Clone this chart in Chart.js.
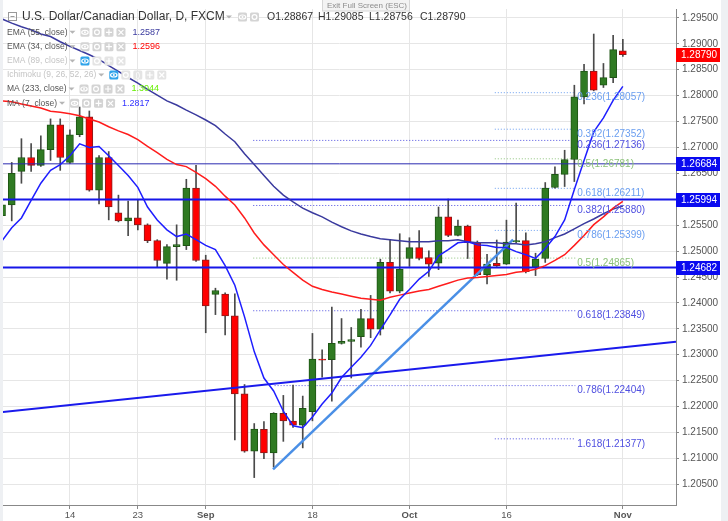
<!DOCTYPE html>
<html><head><meta charset="utf-8">
<style>
html,body{margin:0;padding:0;background:#eef0f3;overflow:hidden;}
canvas{display:block;}
</style>
<script src="https://cdn.jsdelivr.net/npm/chart.js@4.4.0/dist/chart.umd.min.js"></script>
</head><body>
<canvas id="c" width="728" height="521"></canvas>
<script>
// ---------------- DATA ----------------
const dates = [
 "2017-08-03","2017-08-04","2017-08-07","2017-08-08","2017-08-09","2017-08-10","2017-08-11","2017-08-14","2017-08-15","2017-08-16",
 "2017-08-17","2017-08-18","2017-08-21","2017-08-22","2017-08-23","2017-08-24","2017-08-25","2017-08-28","2017-08-29","2017-08-30",
 "2017-08-31","2017-09-01","2017-09-04","2017-09-05","2017-09-06","2017-09-07","2017-09-08","2017-09-11","2017-09-12","2017-09-13",
 "2017-09-14","2017-09-15","2017-09-18","2017-09-19","2017-09-20","2017-09-21","2017-09-22","2017-09-25","2017-09-26","2017-09-27",
 "2017-09-28","2017-09-29","2017-10-02","2017-10-03","2017-10-04","2017-10-05","2017-10-06","2017-10-09","2017-10-10","2017-10-11",
 "2017-10-12","2017-10-13","2017-10-16","2017-10-17","2017-10-18","2017-10-19","2017-10-20","2017-10-23","2017-10-24","2017-10-25",
 "2017-10-26","2017-10-27","2017-10-30","2017-10-31","2017-11-01"];
const open = [
 1.25685,1.25889,1.26539,1.26806,1.26653,1.26959,1.27437,1.26711,1.27246,1.27589,
 1.26176,1.26806,1.25736,1.25583,1.25641,1.25507,1.25201,1.24762,1.25087,1.25106,
 1.26214,1.24832,1.24164,1.24170,1.23749,1.22245,1.21137,1.21558,1.21107,1.21871,
 1.21718,1.21642,1.21902,1.22914,1.22903,1.23220,1.23258,1.23348,1.23698,1.23495,
 1.24781,1.24227,1.24857,1.25067,1.24876,1.24767,1.25660,1.25302,1.25482,1.25163,
 1.24546,1.24762,1.24748,1.25176,1.25201,1.24685,1.24857,1.26227,1.26481,1.26768,
 1.27977,1.28474,1.28201,1.28348,1.28867];
const high = [
 1.26023,1.26711,1.27169,1.27074,1.27226,1.27551,1.27551,1.27341,1.27780,1.27704,
 1.26844,1.26921,1.26080,1.25965,1.25985,1.25526,1.25220,1.25125,1.25507,1.26386,
 1.26653,1.24920,1.24284,1.24194,1.24175,1.22425,1.21672,1.21711,1.21882,1.22215,
 1.22412,1.22202,1.23411,1.23094,1.23921,1.23698,1.23526,1.23877,1.24145,1.24844,
 1.25226,1.25335,1.25258,1.25398,1.25004,1.25851,1.26004,1.25597,1.25501,1.25195,
 1.24939,1.25214,1.25597,1.25927,1.25354,1.24959,1.26323,1.26628,1.26946,1.28201,
 1.28602,1.29189,1.28621,1.29162,1.29085];
const low = [
 1.25622,1.25583,1.26309,1.26539,1.26634,1.26749,1.26558,1.26691,1.27207,1.26156,
 1.25908,1.25602,1.25564,1.25297,1.25411,1.25163,1.24685,1.24456,1.24437,1.25029,
 1.24800,1.23424,1.23774,1.23380,1.21355,1.21118,1.20629,1.20992,1.20832,1.21328,
 1.21596,1.21202,1.21724,1.22565,1.22106,1.23205,1.22551,1.23144,1.23329,1.23380,
 1.24194,1.24194,1.24704,1.24832,1.24513,1.24641,1.25278,1.25291,1.24857,1.24527,
 1.24366,1.24704,1.24742,1.25163,1.24580,1.24527,1.24781,1.26214,1.26246,1.26342,
 1.27838,1.28092,1.28157,1.28252,1.28756];
const close = [
 1.25895,1.26500,1.26806,1.26653,1.26959,1.27437,1.26806,1.27246,1.27589,1.26176,
 1.26806,1.25851,1.25583,1.25641,1.25507,1.25201,1.24819,1.25087,1.25125,1.26214,
 1.24819,1.23940,1.24240,1.23749,1.22245,1.21137,1.21565,1.21107,1.21871,1.21724,
 1.21642,1.21967,1.22914,1.22895,1.23220,1.23258,1.23291,1.23698,1.23495,1.24781,
 1.24227,1.24653,1.25067,1.24857,1.24748,1.25660,1.25302,1.25482,1.25163,1.24546,
 1.24748,1.24718,1.25176,1.25201,1.24603,1.24844,1.26214,1.26481,1.26768,1.27977,
 1.28474,1.28105,1.28348,1.28889,1.28790];
const ema55 = [
 1.2948,1.2940,1.2933,1.2927,1.2919,1.2914,1.2904,1.2895,1.2887,1.2879,
 1.2870,1.2858,1.2847,1.2835,1.2824,1.2812,1.2801,1.2790,1.2782,1.2772,
 1.2763,1.2753,1.2742,1.2726,1.2711,1.2688,1.2667,1.2646,1.2625,1.2608,
 1.2595,1.2583,1.2574,1.2566,1.2556,1.2547,1.2539,1.2533,1.2528,1.2524,
 1.2522,1.2520,1.2518,1.2518,1.2518,1.2520,1.2520,1.2522,1.2518,1.2516,
 1.2516,1.2516,1.2514,1.2514,1.2512,1.2514,1.2518,1.2526,1.2533,1.2543,
 1.2553,1.2562,1.2572,1.2581,1.2587];
const ema34 = [
 1.2790,1.2788,1.2784,1.2780,1.2776,1.2770,1.2768,1.2765,1.2761,1.2755,
 1.2749,1.2740,1.2732,1.2725,1.2715,1.2702,1.2690,1.2677,1.2667,1.2663,
 1.2652,1.2640,1.2625,1.2606,1.2589,1.2564,1.2535,1.2512,1.2493,1.2474,
 1.2459,1.2444,1.2432,1.2426,1.2421,1.2417,1.2413,1.2409,1.2407,1.2405,
 1.2411,1.2415,1.2419,1.2423,1.2426,1.2432,1.2438,1.2444,1.2448,1.2449,
 1.2451,1.2453,1.2455,1.2459,1.2461,1.2465,1.2472,1.2482,1.2493,1.2511,
 1.2530,1.2551,1.2566,1.2583,1.2596];
const ma7 = [
 1.2520,1.2545,1.2564,1.2598,1.2631,1.2656,1.2667,1.2684,1.2707,1.2700,
 1.2702,1.2684,1.2665,1.2646,1.2623,1.2585,1.2560,1.2541,1.2528,1.2533,
 1.2522,1.2511,1.2503,1.2472,1.2434,1.2373,1.2306,1.2255,1.2230,1.2191,
 1.2163,1.2159,1.2180,1.2205,1.2226,1.2256,1.2276,1.2295,1.2318,1.2348,
 1.2377,1.2407,1.2426,1.2446,1.2461,1.2491,1.2503,1.2516,1.2518,1.2512,
 1.2511,1.2507,1.2507,1.2499,1.2493,1.2486,1.2505,1.2528,1.2560,1.2619,
 1.2675,1.2730,1.2757,1.2791,1.2818];

const xTickDates  = ["2017-08-14","2017-08-23","2017-09-01","2017-09-18","2017-10-02","2017-10-16","2017-11-01"];
const xTickLabels = ["14","23","Sep","18","Oct","16","Nov"];
const monthLabels = ["Sep","Oct","Nov"];
const yTicks = [1.205,1.210,1.215,1.220,1.225,1.230,1.235,1.240,1.245,1.250,1.255,1.260,1.265,1.270,1.275,1.280,1.285,1.290,1.295];

const hLevels = [1.26684, 1.25994, 1.24682];
// trend lines: [x index, price] pairs
const longTrend  = [[0, 1.21892], [69.48, 1.23252]];
const lightTrend = [[27.94, 1.20788], [52.68, 1.25220]];

const fibALevels = [1.28057, 1.27352, 1.26781, 1.26211, 1.25399, 1.21377];
const fibALabels = ["0.236(1.28057)","0.382(1.27352)","0.5(1.26781)","0.618(1.26211)","0.786(1.25399)","1.618(1.21377)"];
const fibBLevels = [1.27136, 1.25880, 1.24865, 1.23849, 1.22404];
const fibBLabels = ["0.236(1.27136)","0.382(1.25880)","0.5(1.24865)","0.618(1.23849)","0.786(1.22404)"];

const legendNames  = ["EMA (55, close)","EMA (34, close)","EMA (89, close)","Ichimoku (9, 26, 52, 26)","MA (233, close)","MA (7, close)"];
const legendValues = ["1.2587","1.2596","","","1.3044","1.2817"];
const titleText = "U.S. Dollar/Canadian Dollar, D, FXCM";
const ohlcText = ["O1.28867","H1.29085","L1.28756","C1.28790"];

// ---------------- STYLE ----------------
const FONT = '"Liberation Sans", Arial, sans-serif';
const UP = '#2f7a22', UP_B = '#1e5514', DN = '#ff0000', DN_B = '#8a1c1c';
const NAVY = '#3a3a9e', RED = '#ff1c1c', BLUE = '#1e1eff';
const LBLUE = '#6a9ef0', GREEN = '#8cc27a', PBLUE = '#4f4fe0';
const fibAColors = [LBLUE, LBLUE, GREEN, LBLUE, LBLUE, PBLUE];
const fibBColors = [PBLUE, PBLUE, GREEN, PBLUE, PBLUE];
const fibAStart = 50.8, fibBStarts = [25.9, 25.9, 25.9, 25.9, 28.1], fibEnd = 59.1, fibTextX = 59.3;
const hLevelStyles = [{c:'#2a2ab0', w:1}, {c:'#1616e8', w:2}, {c:'#1616e8', w:2}];
const legendColors = [NAVY, '#ff0000', '', '', '#66ee00', '#3333ff'];

const idx = dates.map((d,i)=>i);
const seg = (pts) => pts.map(p=>({x:p[0], y:p[1]}));

const datasets = [];
// fib dotted lines
fibALevels.forEach((v,k)=>datasets.push({type:'line', data:[{x:fibAStart,y:v},{x:fibEnd,y:v}], borderColor:fibAColors[k], borderWidth:1, borderDash:[1,2], pointRadius:0, order:20, clip:0}));
fibBLevels.forEach((v,k)=>datasets.push({type:'line', data:[{x:fibBStarts[k],y:v},{x:fibEnd,y:v}], borderColor:fibBColors[k], borderWidth:1, borderDash:[1,2], pointRadius:0, order:20, clip:0}));
// candles
datasets.push({type:'bar', data: idx.map(i=>({x:i, y:[low[i], high[i]]})), backgroundColor:'#4a4a4a', barThickness:1, grouped:false, order:12, clip:0});
datasets.push({type:'bar', data: idx.map(i=>({x:i, y:[open[i], close[i]]})),
  backgroundColor: idx.map(i=> close[i]>=open[i] ? UP : DN),
  borderColor: idx.map(i=> close[i]>=open[i] ? UP_B : DN_B),
  borderWidth:1, borderSkipped:false, barThickness:7, minBarLength:1, grouped:false, order:11, clip:0});
// horizontal levels & trend lines
hLevels.forEach((v,k)=>datasets.push({type:'line', data:[{x:-1,y:v},{x:80,y:v}], borderColor:hLevelStyles[k].c, borderWidth:hLevelStyles[k].w, pointRadius:0, order:8, clip:0}));
datasets.push({type:'line', data:seg(longTrend), borderColor:'#1a1aec', borderWidth:2, pointRadius:0, order:8, clip:0});
datasets.push({type:'line', data:seg(lightTrend), borderColor:'#4a8fe6', borderWidth:2.5, pointRadius:0, order:8, clip:0});
// moving averages
datasets.push({type:'line', data: idx.map(i=>({x:i,y:ema55[i]})), borderColor:NAVY, borderWidth:1.5, pointRadius:0, order:3, clip:0});
datasets.push({type:'line', data: idx.map(i=>({x:i,y:ema34[i]})), borderColor:RED, borderWidth:1.5, pointRadius:0, order:2, clip:0});
datasets.push({type:'line', data: idx.map(i=>({x:i,y:ma7[i]})), borderColor:BLUE, borderWidth:1.5, pointRadius:0, order:1, clip:0});

function rbox(ctx,x,y,w,h,fill){ctx.fillStyle=fill;ctx.beginPath();ctx.roundRect?ctx.roundRect(x,y,w,h,1.5):ctx.rect(x,y,w,h);ctx.fill();}
function caret(ctx,x,y,c){ctx.fillStyle=c;ctx.beginPath();ctx.moveTo(x-3,y-1.5);ctx.lineTo(x+3,y-1.5);ctx.lineTo(x,y+1.5);ctx.closePath();ctx.fill();}
function icon(ctx,type,x,y,fill){
  rbox(ctx,x,y-4.5,9,9,fill);
  ctx.strokeStyle='#fff';ctx.fillStyle='#fff';ctx.lineWidth=1.2;
  const cx=x+4.5, cy=y;
  ctx.beginPath();
  if(type==='eye'){ctx.ellipse(cx,cy,3.2,2,0,0,Math.PI*2);ctx.stroke();ctx.beginPath();ctx.arc(cx,cy,1,0,Math.PI*2);ctx.fill();}
  else if(type==='gear'){ctx.arc(cx,cy,2.4,0,Math.PI*2);ctx.stroke();}
  else if(type==='plus'){ctx.moveTo(cx-3,cy);ctx.lineTo(cx+3,cy);ctx.moveTo(cx,cy-3);ctx.lineTo(cx,cy+3);ctx.stroke();}
  else if(type==='x'){ctx.moveTo(cx-2.5,cy-2.5);ctx.lineTo(cx+2.5,cy+2.5);ctx.moveTo(cx+2.5,cy-2.5);ctx.lineTo(cx-2.5,cy+2.5);ctx.stroke();}
  else if(type==='par'){ctx.font='7px '+FONT;ctx.textAlign='center';ctx.fillText('()',cx,cy+0.5);ctx.textAlign='left';}
}

const deco = {
  id:'deco',
  beforeDraw(chart){
    const ctx=chart.ctx; ctx.save();
    ctx.fillStyle='#eef0f3'; ctx.fillRect(0,0,728,521);
    ctx.fillStyle='#ffffff'; ctx.fillRect(3,0,718,521);
    ctx.restore();
  },
  afterDraw(chart){
    const ctx=chart.ctx, ca=chart.chartArea, xs=chart.scales.x, ys=chart.scales.y;
    ctx.save();
    ctx.textBaseline='middle'; ctx.textAlign='left';
    // fib labels
    ctx.font='10px '+FONT;
    const tx = xs.getPixelForValue(fibTextX);
    fibALevels.forEach((v,k)=>{ctx.fillStyle=fibAColors[k]; ctx.fillText(fibALabels[k], tx, ys.getPixelForValue(v)+5);});
    fibBLevels.forEach((v,k)=>{ctx.fillStyle=fibBColors[k]; ctx.fillText(fibBLabels[k], tx, ys.getPixelForValue(v)+5);});
    // price badges
    const bVals=[close[close.length-1], ...hLevels];
    const bCols=['#ff0000','#0a0af0','#0a0af0','#0a0af0'];
    ctx.font='10px '+FONT;
    bVals.forEach((v,k)=>{
      const y=Math.round(ys.getPixelForValue(v));
      ctx.fillStyle=bCols[k]; ctx.fillRect(ca.right,y-7,44,14);
      ctx.fillStyle='#ffffff'; ctx.fillText(v.toFixed(5), ca.right+5, y+0.5);
    });
    // exit full screen tooltip
    ctx.fillStyle='#f3f3f3'; ctx.fillRect(322,-1,87,12);
    ctx.strokeStyle='#d6d6d6'; ctx.lineWidth=1; ctx.strokeRect(322.5,-0.5,87,11.5);
    ctx.fillStyle='#8c8c8c'; ctx.font='8px '+FONT; ctx.fillText('Exit Full Screen (ESC)', 327, 5.5);
    // title row
    ctx.strokeStyle='#999'; ctx.lineWidth=1; ctx.strokeRect(8.5,12.5,8,8);
    ctx.beginPath(); ctx.moveTo(10.5,16.5); ctx.lineTo(14.5,16.5); ctx.stroke();
    ctx.fillStyle='#333'; ctx.font='12px '+FONT; ctx.fillText(titleText, 22, 17);
    caret(ctx,229,17,'#b5b5b5');
    icon(ctx,'eye',238,17,'#d4d4d4'); icon(ctx,'gear',250,17,'#d4d4d4');
    ctx.font='10.5px '+FONT; ctx.fillStyle='#333';
    const ohX=[267,318,369,420];
    ohlcText.forEach((t,k)=>ctx.fillText(t, ohX[k], 17));
    // legend rows
    const rowY=[32.3,46.7,61,75,89,103.3];
    legendNames.forEach((n,k)=>{
      const faded = (k===2||k===3);
      ctx.fillStyle = faded ? '#c4c4c4' : '#555';
      ctx.font='8.5px '+FONT;
      ctx.fillText(n, 7, rowY[k]);
      const w = ctx.measureText(n).width;
      const cx = 7 + w + 5;
      caret(ctx,cx,rowY[k],'#b5b5b5');
      let bx = cx + 8;
      const types = (k===3) ? ['eye','gear','par','plus','x'] : ['eye','gear','plus','x'];
      types.forEach((t,j)=>{
        const fill = (faded && j===0) ? '#2ea3ea' : (faded ? '#e4e4e4' : '#d4d4d4');
        icon(ctx,t,bx,rowY[k],fill); bx += 12;
      });
      if(legendValues[k]){ ctx.fillStyle=legendColors[k]; ctx.font='9px '+FONT; ctx.fillText(legendValues[k], bx+4, rowY[k]); }
    });
    ctx.restore();
  }
};

new Chart(document.getElementById('c'), {
  data:{datasets},
  options:{
    responsive:false, animation:false, devicePixelRatio:1,
    layout:{padding:{left:3, top:4, right:7, bottom:0}},
    plugins:{legend:{display:false}, tooltip:{enabled:false}},
    scales:{
      x:{type:'linear', position:'bottom', min:0.1, max:69.48, offset:false,
        afterBuildTicks:(s)=>{ s.ticks = xTickDates.map(d=>({value: dates.indexOf(d)})); },
        afterFit:(s)=>{ s.height = 16; },
        ticks:{autoSkip:false, maxRotation:0, padding:1, color:'#555',
          callback:(v,i)=>xTickLabels[i],
          font:(c)=>({family:FONT, size:9.5, weight: (c.tick && monthLabels.includes(xTickLabels[c.index])) ? 'bold' : 'normal'})},
        grid:{offset:false, color:'#e6e6e6', tickLength:4, tickColor:'#888', drawTicks:true},
        border:{display:true, color:'#888'}
      },
      y:{type:'linear', position:'right', min:1.20100, max:1.29672,
        afterBuildTicks:(s)=>{ s.ticks = yTicks.map(v=>({value:v})); },
        afterFit:(s)=>{ s.width = 45; },
        ticks:{autoSkip:false, padding:3, color:'#555', font:{family:FONT, size:10},
          callback:(v)=>Number(v).toFixed(5)},
        grid:{color:'#e6e6e6', tickLength:3, tickColor:'#888', drawTicks:true},
        border:{display:true, color:'#888'}
      }
    }
  },
  plugins:[deco]
});
</script>
</body></html>
